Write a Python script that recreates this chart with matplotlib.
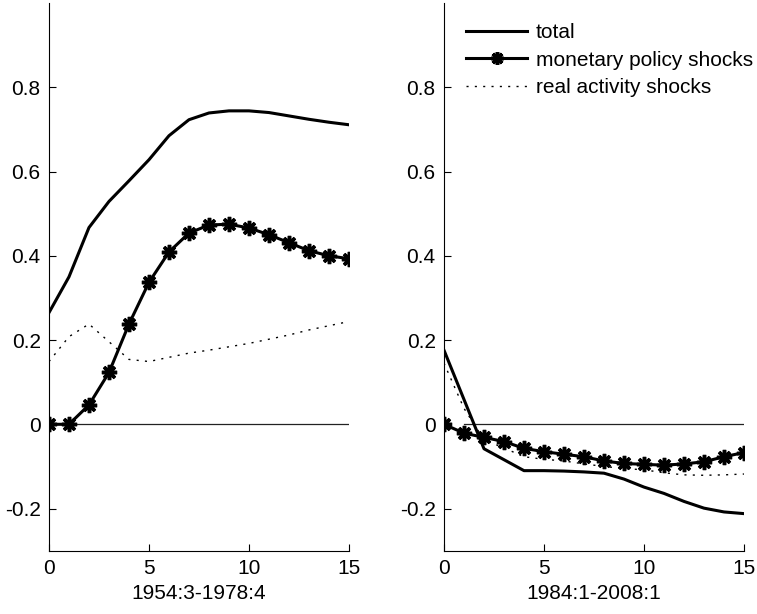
import numpy as np
import matplotlib.pyplot as plt

plt.rcParams['font.family'] = ['Liberation Sans', 'DejaVu Sans']

horizon = np.arange(16)

# 1954:3-1978:4
total_early = [0.265, 0.35, 0.467, 0.529, 0.578, 0.628, 0.685, 0.723, 0.739, 0.744,
               0.744, 0.740, 0.732, 0.724, 0.717, 0.711]
monetary_early = [0.0, 0.0, 0.046, 0.123, 0.238, 0.337, 0.409, 0.454, 0.473, 0.475,
                  0.466, 0.450, 0.431, 0.412, 0.400, 0.393]
real_early = [0.149, 0.208, 0.238, 0.196, 0.154, 0.149, 0.159, 0.169, 0.176, 0.184,
              0.192, 0.202, 0.212, 0.224, 0.234, 0.244]

# 1984:1-2008:1
total_late = [0.176, 0.059, -0.058, -0.084, -0.110, -0.110, -0.111, -0.113, -0.116, -0.130,
              -0.149, -0.164, -0.183, -0.199, -0.208, -0.212]
monetary_late = [0.0, -0.021, -0.031, -0.041, -0.057, -0.065, -0.071, -0.077, -0.087, -0.093,
                 -0.095, -0.097, -0.094, -0.089, -0.077, -0.067]
real_late = [0.145, 0.038, -0.037, -0.056, -0.077, -0.083, -0.087, -0.094, -0.100, -0.105,
             -0.108, -0.115, -0.120, -0.121, -0.120, -0.118]

periods = ['1954:3-1978:4', '1984:1-2008:1']
yticks = [-0.2, 0, 0.2, 0.4, 0.6, 0.8]
ytick_labels = ['-0.2', '0', '0.2', '0.4', '0.6', '0.8']

fig = plt.figure(figsize=(7.57, 6.14), dpi=100)
ax1 = fig.add_axes([0.0647, 0.1031, 0.3963, 0.892])
ax2 = fig.add_axes([0.5865, 0.1031, 0.3963, 0.892])

panels = [(ax1, total_early, monetary_early, real_early, periods[0]),
          (ax2, total_late, monetary_late, real_late, periods[1])]

for ax, tot, mon, real, label in panels:
    ax.plot(horizon[1:], np.zeros(15), color='#222222', lw=0.9)
    ax.plot(horizon, tot, color='black', lw=2.2, label='total')
    ax.plot(horizon, mon, color='black', lw=2.2, marker=(8, 2, 0), markersize=11,
            markeredgewidth=2.5, label='monetary policy shocks')
    ax.plot(horizon, real, color='black', lw=1.0, linestyle=(0, (1.5, 4.5)),
            label='real activity shocks')

    ax.set_xlim(0, 15)
    ax.set_ylim(-0.3, 1.0)
    ax.set_xticks([0, 5, 10, 15])
    ax.set_yticks(yticks)
    ax.set_yticklabels(ytick_labels)
    ax.tick_params(direction='in', length=5, width=0.8, labelsize=15, pad=6)
    ax.spines['top'].set_visible(False)
    ax.spines['right'].set_visible(False)
    ax.set_xlabel(label, fontsize=15, labelpad=4)

ax2.legend(loc='upper left', bbox_to_anchor=(0.012, 0.998), frameon=False, fontsize=15,
           handlelength=2.9, handletextpad=0.45, labelspacing=0.42, markerscale=0.85)

fig.savefig('out.png', dpi=100)
